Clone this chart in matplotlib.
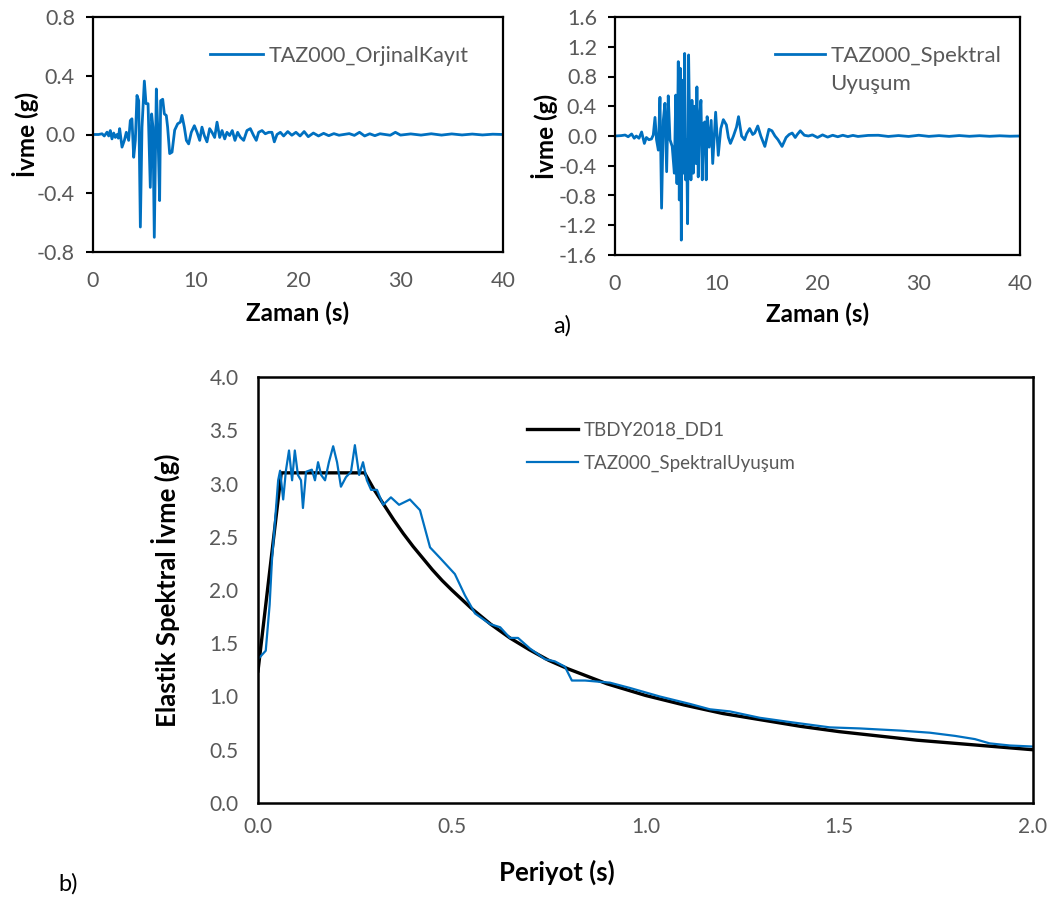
import matplotlib
matplotlib.use("Agg")
import matplotlib.pyplot as plt
from matplotlib.ticker import FormatStrFormatter, MultipleLocator

plt.rcParams['font.family'] = ['Lato', 'DejaVu Sans']

BLUE = '#0070C0'
GRAY = '#595959'

# ---------------- data ----------------
# (time s, acceleration g)
orig_record = [
    (0.0, 0.0), (0.55, 0.0), (0.88, 0.005), (1.10, -0.01), (1.37, 0.016), (1.53, -0.01),
    (1.69, 0.027), (1.85, -0.03), (2.02, 0.01), (2.18, -0.02), (2.34, 0.0), (2.47, -0.025),
    (2.60, 0.04), (2.83, -0.086), (3.06, -0.04), (3.25, 0.015), (3.48, -0.04), (3.64, 0.095),
    (3.80, 0.107), (3.97, -0.155), (4.13, -0.04), (4.29, 0.266), (4.46, 0.23), (4.62, -0.63),
    (4.78, 0.05), (5.01, 0.364), (5.17, 0.21), (5.37, 0.21), (5.59, -0.36), (5.72, 0.14),
    (5.85, 0.05), (5.98, -0.70), (6.18, 0.31), (6.34, 0.0), (6.50, -0.45), (6.60, 0.23),
    (6.80, 0.24), (6.96, 0.14), (7.15, 0.13), (7.28, 0.05), (7.48, -0.13), (7.71, -0.12),
    (7.97, 0.03), (8.26, 0.073), (8.52, 0.084), (8.68, 0.13), (8.91, 0.05), (9.11, -0.04),
    (9.33, -0.064), (9.59, 0.015), (9.89, 0.06), (10.15, 0.015), (10.41, -0.04), (10.63, 0.05),
    (10.86, -0.007), (11.12, -0.05), (11.38, 0.04), (11.61, 0.015), (11.87, -0.02), (12.10, 0.084),
    (12.36, -0.02), (12.59, 0.027), (12.85, -0.03), (13.07, 0.015), (13.33, -0.007), (13.59, 0.027),
    (13.85, -0.04), (14.11, 0.015), (14.37, -0.018), (14.70, -0.04), (15.02, 0.027), (15.35, 0.04),
    (15.67, -0.007), (15.93, -0.04), (16.16, 0.015), (16.49, 0.027), (16.81, 0.005), (17.14, 0.015),
    (17.46, 0.015), (17.69, -0.05), (17.95, 0.0), (18.28, 0.015), (18.60, -0.01), (19.00, 0.02),
    (19.40, -0.005), (19.80, 0.015), (20.20, -0.01), (20.60, 0.02), (21.00, -0.015), (21.50, 0.01),
    (22.00, -0.01), (22.50, 0.008), (23.00, -0.008), (23.50, 0.006), (24.00, -0.005), (25.00, 0.006),
    (25.50, -0.006), (26.00, 0.015), (26.50, -0.01), (27.00, 0.005), (27.50, -0.008), (28.00, 0.005),
    (29.00, -0.005), (29.50, 0.015), (30.00, -0.004), (31.00, 0.004), (32.00, -0.004), (33.00, 0.005),
    (34.00, -0.004), (35.00, 0.004), (36.00, -0.003), (37.00, 0.003), (38.00, -0.003), (39.00, 0.002),
    (40.00, 0.0),
]

# (time s, acceleration g)
matched_record = [
    (0.0, 0.0), (0.6, 0.005), (1.0, 0.013), (1.3, -0.01), (1.64, 0.027), (1.9, -0.03),
    (2.1, 0.0), (2.37, -0.03), (2.63, 0.054), (2.9, -0.10), (3.1, -0.02), (3.35, -0.05),
    (3.6, -0.04), (3.78, 0.013), (3.95, 0.25), (4.1, -0.05), (4.28, -0.19), (4.44, 0.52),
    (4.6, -0.97), (4.77, 0.21), (4.93, 0.44), (5.1, -0.48), (5.26, 0.54), (5.43, -0.05),
    (5.65, -0.14), (5.86, -0.50), (6.0, 0.55), (6.12, -0.64), (6.25, 1.0), (6.35, -0.86),
    (6.45, 0.91), (6.55, -1.40), (6.64, 0.75), (6.74, -0.50), (6.88, 1.11), (6.97, -0.59),
    (7.07, -0.05), (7.17, -1.18), (7.27, 1.09), (7.37, 0.13), (7.5, -0.59), (7.6, 0.48),
    (7.73, -0.50), (7.86, 0.40), (7.99, -0.37), (8.09, 0.66), (8.22, -0.55), (8.35, 0.26),
    (8.49, 0.48), (8.62, -0.59), (8.75, 0.17), (8.88, 0.19), (9.01, -0.59), (9.1, 0.26),
    (9.3, -0.15), (9.5, 0.21), (9.65, -0.37), (9.94, 0.32), (10.2, -0.26), (10.45, 0.10),
    (10.7, 0.22), (11.0, 0.15), (11.2, -0.02), (11.4, -0.10), (11.7, 0.0), (12.0, 0.12),
    (12.2, 0.26), (12.5, 0.0), (12.8, -0.05), (13.0, 0.03), (13.3, 0.10), (13.6, 0.02),
    (13.8, 0.04), (14.1, 0.135), (14.4, 0.0), (14.8, -0.14), (15.2, 0.09), (15.5, 0.07),
    (15.8, 0.0), (16.1, -0.05), (16.5, -0.14), (16.9, -0.02), (17.2, 0.02), (17.5, 0.04),
    (17.8, -0.02), (18.0, 0.02), (18.3, 0.07), (18.7, 0.01), (19.1, 0.0), (19.5, 0.015),
    (20.0, -0.02), (20.5, 0.015), (21.0, -0.015), (21.5, 0.01), (22.0, -0.01), (22.5, 0.01),
    (23.0, -0.008), (23.5, 0.008), (24.0, -0.006), (25.0, 0.008), (26.0, 0.01), (27.0, -0.006),
    (28.0, 0.006), (29.0, -0.006), (30.0, 0.01), (31.0, -0.005), (32.0, 0.005), (33.0, -0.005),
    (34.0, 0.006), (35.0, -0.004), (36.0, 0.004), (37.0, -0.004), (38.0, 0.003), (39.0, -0.003),
    (40.0, 0.0),
]

# Design spectrum TBDY2018 DD1 (period s, Sae g)
T_dd1 = [0.0, 0.06, 0.275, 0.30, 0.325, 0.35, 0.375, 0.40, 0.425, 0.45, 0.475, 0.50,
         0.55, 0.60, 0.65, 0.70, 0.75, 0.80, 0.90, 1.00, 1.10, 1.20, 1.30, 1.40, 1.50,
         1.60, 1.70, 1.80, 1.90, 2.00]
Sa_dd1 = [1.24, 3.10, 3.10, 2.94, 2.80, 2.66, 2.53, 2.41, 2.30, 2.19, 2.09, 2.00,
          1.83, 1.68, 1.55, 1.44, 1.34, 1.26, 1.12, 1.01, 0.92, 0.84, 0.78, 0.72, 0.67,
          0.63, 0.59, 0.56, 0.53, 0.50]

# Response spectrum of the matched record (period s, Sa g)
T_match = [0.0, 0.01, 0.02, 0.03, 0.036, 0.044, 0.052, 0.057, 0.065, 0.072, 0.080, 0.088,
           0.095, 0.103, 0.111, 0.116, 0.124, 0.139, 0.147, 0.155, 0.163, 0.173, 0.183,
           0.194, 0.204, 0.214, 0.227, 0.240, 0.250, 0.261, 0.271, 0.281, 0.292, 0.307,
           0.323, 0.343, 0.364, 0.392, 0.418, 0.444, 0.470, 0.508, 0.534, 0.560, 0.599,
           0.625, 0.650, 0.671, 0.702, 0.741, 0.766, 0.792, 0.810, 0.844, 0.908, 0.960,
           1.037, 1.115, 1.166, 1.218, 1.295, 1.373, 1.476, 1.554, 1.605, 1.657, 1.734,
           1.799, 1.850, 1.888, 1.940, 2.0]
Sa_match = [1.35, 1.39, 1.43, 1.86, 2.28, 2.65, 3.03, 3.12, 2.85, 3.12, 3.31, 3.03,
            3.31, 3.08, 3.03, 2.77, 3.11, 3.13, 3.03, 3.20, 3.08, 3.03, 3.20,
            3.35, 3.20, 2.97, 3.06, 3.11, 3.36, 3.08, 3.20, 3.03, 2.94, 2.94,
            2.80, 2.87, 2.80, 2.85, 2.75, 2.40, 2.30, 2.15, 1.95, 1.78, 1.68,
            1.65, 1.55, 1.55, 1.45, 1.35, 1.33, 1.28, 1.15, 1.15, 1.13, 1.08,
            1.00, 0.93, 0.88, 0.86, 0.80, 0.76, 0.71, 0.70, 0.69, 0.68, 0.66,
            0.63, 0.60, 0.56, 0.54, 0.53]

orig_label = 'TAZ000_OrjinalKayıt'
match_label_1 = 'TAZ000_Spektral'
match_label_2 = 'Uyuşum'
dd1_label = 'TBDY2018_DD1'
spec_label = 'TAZ000_SpektralUyuşum'

# ---------------- figure ----------------
W, H = 1056, 898
fig = plt.figure(figsize=(W / 100, H / 100), dpi=100)


def box(l, t, r, b):
    return [l / W, 1 - b / H, (r - l) / W, (b - t) / H]


TOP_TICK_FS = 15.5
TOP_LAB_FS = 17.5
TOP_LEG_FS = 15.5
BOT_TICK_FS = 15
BOT_LAB_FS = 18.5
BOT_LEG_FS = 13.5


def style(ax, fs):
    for s in ax.spines.values():
        s.set_linewidth(1.6)
        s.set_color('black')
    ax.tick_params(axis='both', labelsize=fs, labelcolor=GRAY)
    ax.grid(False)


# top-left
ax1 = fig.add_axes(box(93, 17, 503, 252))
t1 = [p[0] for p in orig_record]
v1 = [p[1] for p in orig_record]
ax1.plot(t1, v1, color=BLUE, lw=2.0, label=orig_label)
ax1.set_xlim(0, 40)
ax1.set_ylim(-0.8, 0.8)
ax1.set_xticks([0, 10, 20, 30, 40])
ax1.yaxis.set_major_locator(MultipleLocator(0.4))
ax1.yaxis.set_major_formatter(FormatStrFormatter('%.1f'))
style(ax1, TOP_TICK_FS)
ax1.tick_params(axis='y', direction='out', length=5, width=1.5, pad=8)
ax1.tick_params(axis='x', length=0, pad=14)
ax1.set_xlabel('Zaman (s)', fontsize=TOP_LAB_FS, fontweight='bold')
ax1.xaxis.set_label_coords(0.5, -0.21)
ax1.set_ylabel('İvme (g)', fontsize=TOP_LAB_FS, fontweight='bold')
ax1.yaxis.set_label_coords(-0.132, 0.5)
leg1 = ax1.legend(loc='center left', bbox_to_anchor=(0.285, 0.836), frameon=False,
                  fontsize=TOP_LEG_FS, handlelength=2.45, handletextpad=0.28,
                  borderpad=0, borderaxespad=0)
for tx in leg1.get_texts():
    tx.set_color(GRAY)

# top-right
ax2 = fig.add_axes(box(615, 17, 1020, 255))
t2 = [p[0] for p in matched_record]
v2 = [p[1] for p in matched_record]
ax2.plot(t2, v2, color=BLUE, lw=2.0, label=match_label_1)
ax2.set_xlim(0, 40)
ax2.set_ylim(-1.6, 1.6)
ax2.set_xticks([0, 10, 20, 30, 40])
ax2.yaxis.set_major_locator(MultipleLocator(0.4))
ax2.yaxis.set_major_formatter(FormatStrFormatter('%.1f'))
style(ax2, TOP_TICK_FS)
ax2.tick_params(axis='y', direction='out', length=5, width=1.5, pad=8)
ax2.tick_params(axis='x', length=0, pad=14)
ax2.set_xlabel('Zaman (s)', fontsize=TOP_LAB_FS, fontweight='bold')
ax2.xaxis.set_label_coords(0.5, -0.198)
ax2.set_ylabel('İvme (g)', fontsize=TOP_LAB_FS, fontweight='bold')
ax2.yaxis.set_label_coords(-0.14, 0.5)
leg2 = ax2.legend(loc='center left', bbox_to_anchor=(0.395, 0.837), frameon=False,
                  fontsize=16, handlelength=2.25, handletextpad=0.25,
                  borderpad=0, borderaxespad=0)
for tx in leg2.get_texts():
    tx.set_color(GRAY)
ax2.text(0.531, 0.72, match_label_2, transform=ax2.transAxes, fontsize=16,
         color=GRAY, ha='left', va='center')

# bottom spectrum
ax3 = fig.add_axes(box(258, 377, 1033, 803))
ax3.plot(T_dd1, Sa_dd1, color='black', lw=2.4, label=dd1_label)
ax3.plot(T_match, Sa_match, color=BLUE, lw=1.6, label=spec_label)
ax3.set_xlim(0, 2.0)
ax3.set_ylim(0, 4.0)
ax3.xaxis.set_major_locator(MultipleLocator(0.5))
ax3.yaxis.set_major_locator(MultipleLocator(0.5))
ax3.xaxis.set_major_formatter(FormatStrFormatter('%.1f'))
ax3.yaxis.set_major_formatter(FormatStrFormatter('%.1f'))
style(ax3, BOT_TICK_FS)
for s in ax3.spines.values():
    s.set_linewidth(1.8)
ax3.tick_params(axis='both', length=0)
ax3.tick_params(axis='x', pad=10)
ax3.tick_params(axis='y', pad=14)
ax3.set_xlabel('Periyot (s)', fontsize=BOT_LAB_FS, fontweight='bold')
ax3.xaxis.set_label_coords(0.386, -0.134)
ax3.set_ylabel('Elastik Spektral İvme (g)', fontsize=BOT_LAB_FS, fontweight='bold')
ax3.yaxis.set_label_coords(-0.10, 0.5)
leg3 = ax3.legend(loc='upper left', bbox_to_anchor=(0.347, 0.895), frameon=False,
                  fontsize=BOT_LEG_FS, handlelength=2.7, handletextpad=0.35,
                  labelspacing=0.82, borderpad=0, borderaxespad=0)
for tx in leg3.get_texts():
    tx.set_color(GRAY)

fig.text(562 / W, 1 - 326 / H, 'a)', fontsize=17, ha='center', va='center')
fig.text(68 / W, 1 - 884 / H, 'b)', fontsize=17, ha='center', va='center')

fig.savefig('out.png', dpi=100)
